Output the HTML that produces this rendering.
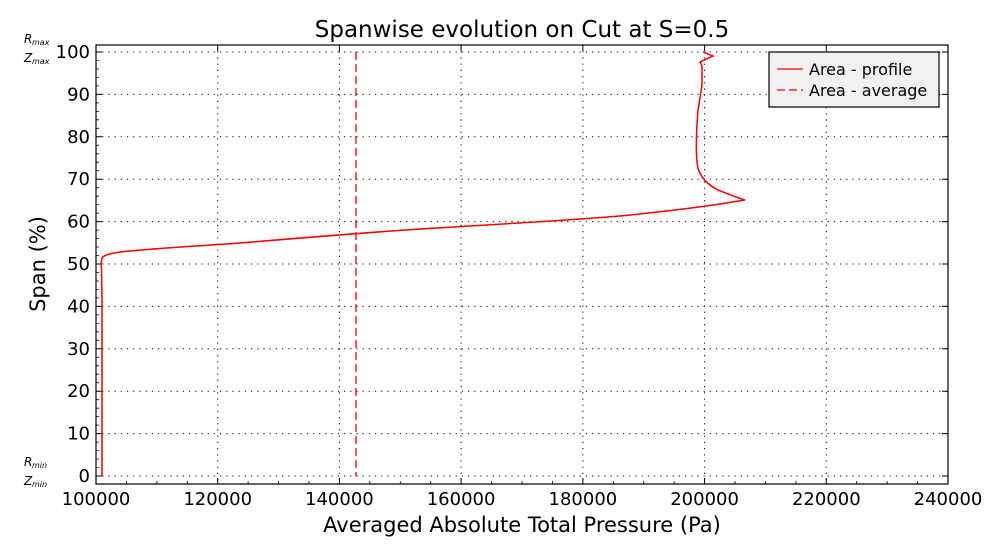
<!DOCTYPE html>
<html><head><style>body{margin:0;background:#fff}svg{display:block}text{font-family:"DejaVu Sans","Liberation Sans",sans-serif}</style></head><body>
<svg width="1000" height="550" viewBox="0 0 1000 550">
<text x="522" y="37" font-size="23" text-anchor="middle">Spanwise evolution on Cut at S=0.5</text>
<g stroke="#000" stroke-width="1" stroke-dasharray="1.2,5">
<line x1="96" y1="52" x2="948" y2="52"/><line x1="96" y1="94.4" x2="948" y2="94.4"/><line x1="96" y1="136.8" x2="948" y2="136.8"/><line x1="96" y1="179.2" x2="948" y2="179.2"/><line x1="96" y1="221.6" x2="948" y2="221.6"/><line x1="96" y1="264" x2="948" y2="264"/><line x1="96" y1="306.4" x2="948" y2="306.4"/><line x1="96" y1="348.8" x2="948" y2="348.8"/><line x1="96" y1="391.2" x2="948" y2="391.2"/><line x1="96" y1="433.6" x2="948" y2="433.6"/><line x1="96" y1="476" x2="948" y2="476"/>
<line x1="217.7" y1="45" x2="217.7" y2="484"/><line x1="339.4" y1="45" x2="339.4" y2="484"/><line x1="461.1" y1="45" x2="461.1" y2="484"/><line x1="582.9" y1="45" x2="582.9" y2="484"/><line x1="704.6" y1="45" x2="704.6" y2="484"/><line x1="826.3" y1="45" x2="826.3" y2="484"/>
</g>
<rect x="96" y="45" width="852" height="439" fill="none" stroke="#000" stroke-width="1.2"/>
<g stroke="#000" stroke-width="1">
<path d="M96 52h6M96 94.4h6M96 136.8h6M96 179.2h6M96 221.6h6M96 264h6M96 306.4h6M96 348.8h6M96 391.2h6M96 433.6h6M96 476h6M948 52h-6M948 94.4h-6M948 136.8h-6M948 179.2h-6M948 221.6h-6M948 264h-6M948 306.4h-6M948 348.8h-6M948 391.2h-6M948 433.6h-6M948 476h-6"/>
<path d="M217.7 484v-6M339.4 484v-6M461.1 484v-6M582.9 484v-6M704.6 484v-6M826.3 484v-6M217.7 45v6M339.4 45v6M461.1 45v6M582.9 45v6M704.6 45v6M826.3 45v6"/>
</g>
<g stroke="#000" stroke-width="0.8" id="mt"></g>
<text font-size="18" text-anchor="end">
<tspan x="90" y="58">100</tspan><tspan x="90" y="100.4">90</tspan><tspan x="90" y="142.8">80</tspan><tspan x="90" y="185.2">70</tspan><tspan x="90" y="227.6">60</tspan><tspan x="90" y="270">50</tspan><tspan x="90" y="312.4">40</tspan><tspan x="90" y="354.8">30</tspan><tspan x="90" y="397.2">20</tspan><tspan x="90" y="439.6">10</tspan><tspan x="90" y="482">0</tspan>
</text>
<text font-size="18" text-anchor="middle" y="505">
<tspan x="96">100000</tspan><tspan x="217.7">120000</tspan><tspan x="339.4">140000</tspan><tspan x="461.1">160000</tspan><tspan x="582.9">180000</tspan><tspan x="704.6">200000</tspan><tspan x="826.3">220000</tspan><tspan x="948">240000</tspan>
</text>
<text font-size="12" font-style="italic" font-family="Liberation Serif,serif"><tspan x="24" y="43">R</tspan><tspan x="24" y="62">Z</tspan><tspan x="24" y="466">R</tspan><tspan x="24" y="485">Z</tspan></text>
<text font-size="8" font-style="italic" font-family="Liberation Serif,serif"><tspan x="32" y="45">max</tspan><tspan x="32" y="64">max</tspan><tspan x="32" y="468">min</tspan><tspan x="32" y="487">min</tspan></text>
<text x="522" y="532" font-size="21" text-anchor="middle">Averaged Absolute Total Pressure (Pa)</text>
<text transform="translate(45,264) rotate(-90)" font-size="21" text-anchor="middle">Span (%)</text>
<line x1="356" y1="52" x2="356" y2="476" stroke="red" stroke-width="1.3" stroke-dasharray="8,4"/>
<path fill="none" stroke="red" stroke-width="1.5" d="M102 476 L102 300 L101.5 268 L101 264 L102 258 C104 255 110 253 125 251.5 C160 248 200 246 240 243 C300 238 360 233 420 229 C500 224 560 221 620 216 C670 211 700 207 720 204 L745 200 C735 197 728 194 718 190 C708 185 701 178 698 168 C696 160 696 140 697 125 L698 110 L700 98 L702 85 L702 66 L700 62 L713 56 L703 52"/>
<rect x="769" y="52" width="170" height="55" fill="#f2f2f2" stroke="#000" stroke-width="1.2"/>
<line x1="777" y1="69" x2="803" y2="69" stroke="red" stroke-width="1.3"/>
<line x1="777" y1="90" x2="803" y2="90" stroke="red" stroke-width="1.3" stroke-dasharray="8,4"/>
<text font-size="16"><tspan x="809" y="75">Area - profile</tspan><tspan x="809" y="96">Area - average</tspan></text>
<g stroke="#000" stroke-width="0.8">
<path d="M96 60.5h3M96 69h3M96 77.4h3M96 85.9h3M96 102.9h3M96 111.4h3M96 119.8h3M96 128.3h3M96 145.3h3M96 153.8h3M96 162.2h3M96 170.7h3M96 187.7h3M96 196.2h3M96 204.6h3M96 213.1h3M96 230.1h3M96 238.6h3M96 247h3M96 255.5h3M96 272.5h3M96 281h3M96 289.4h3M96 297.9h3M96 314.9h3M96 323.4h3M96 331.8h3M96 340.3h3M96 357.3h3M96 365.8h3M96 374.2h3M96 382.7h3M96 399.7h3M96 408.2h3M96 416.6h3M96 425.1h3M96 442.1h3M96 450.6h3M96 459h3M96 467.5h3"/>
<path d="M126.4 484v-3M156.9 484v-3M187.3 484v-3M248.1 484v-3M278.6 484v-3M309 484v-3M369.8 484v-3M400.3 484v-3M430.7 484v-3M491.5 484v-3M522 484v-3M552.4 484v-3M613.3 484v-3M643.7 484v-3M674.1 484v-3M735 484v-3M765.4 484v-3M795.9 484v-3M856.7 484v-3M887.1 484v-3M917.6 484v-3"/>
</g>
</svg>
</body></html>
